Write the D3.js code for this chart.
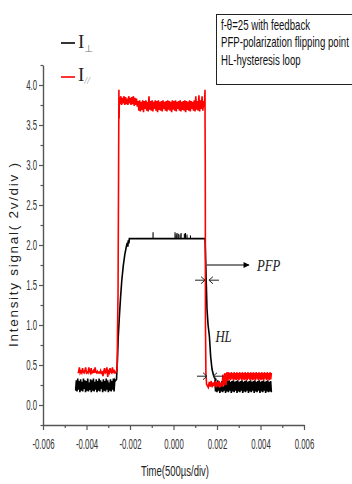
<!DOCTYPE html>
<html>
<head>
<meta charset="utf-8">
<script src="https://d3js.org/d3.v7.min.js"></script>
<style>
  body, html { margin: 0; padding: 0; background: #fff; }
  svg { display: block; }
</style>
</head>
<body>
<svg id="chart" width="352" height="484" font-family="Liberation Sans, Arial, sans-serif"></svg>
<script>
// axis ticks
var xMajor = [-0.006, -0.004, -0.002, 0, 0.002, 0.004, 0.006];
var xMinor = [-0.005, -0.003, -0.001, 0.001, 0.003, 0.005];
var yMajor = [0, 0.5, 1, 1.5, 2, 2.5, 3, 3.5, 4];
var yMinor = [-0.25, 0.25, 0.75, 1.25, 1.75, 2.25, 2.75, 3.25, 3.75, 4.25];

var blackLowL = [0.18,0.31,0.17,0.33,0.19,0.30,0.16,0.32,0.18,0.29,0.17,0.33,0.20,0.31,0.16,0.30,0.18,0.33,0.17,0.28,
  0.19,0.32,0.16,0.31,0.18,0.33,0.17,0.29,0.19,0.32,0.16,0.30,0.18,0.33,0.17,0.31,0.20,0.29,0.16,0.32,
  0.18,0.30,0.17,0.33,0.19,0.31,0.16,0.28,0.18,0.32,0.17,0.30,0.19,0.33,0.17,0.31];
var blackRise = [[-0.00268,0.30],[-0.00262,0.32],[-0.00258,0.55],[-0.00254,0.85],[-0.00249,1.10],[-0.00244,1.32],
  [-0.00238,1.55],[-0.00231,1.74],[-0.00224,1.88],[-0.00216,1.99],[-0.00212,2.03],[-0.00210,1.98],[-0.00208,2.06],[-0.00205,2.02],[-0.00203,2.08]];
var blackHigh = [[-0.00203,2.08],[0.00145,2.08]];
var blackSpikeT = [-0.00094,0.00007,0.00012,0.00016,0.00022,0.00030,0.00035,0.00050,0.00055,0.00062,0.00078];
var blackSpikeV = [2.16,2.16,2.13,2.15,2.14,2.13,2.15,2.14,2.15,2.13,2.12];
var blackFall = [[0.00145,2.08],[0.00148,1.80],[0.00151,1.50],[0.00154,1.20],[0.00159,1.00],[0.00165,0.86],
  [0.00171,0.60],[0.00177,0.45],[0.00185,0.36],[0.00194,0.31]];
var blackLowR = [0.30,0.17,0.29,0.16,0.31,0.18,0.22,0.15,0.24,0.17,0.30,0.16,0.23,0.18,0.31,0.15,0.29,0.17,0.30,0.16,
  0.31,0.18,0.29,0.15,0.30,0.17,0.31,0.16,0.29,0.18,0.30,0.15,0.31,0.17,0.29,0.16,0.30,0.18,0.31,0.15,
  0.29,0.17,0.30,0.16,0.31,0.18,0.29,0.15,0.30,0.17,0.31,0.16,0.29,0.18,0.30,0.15,0.31,0.17,0.29,0.16,
  0.30,0.18,0.31,0.15,0.29,0.17,0.30,0.16,0.31,0.18,0.29,0.15,0.30,0.17,0.31,0.16,0.29,0.17,0.30,0.16];

// I-parallel (red) trace
var redLowL = [0.40,0.41,0.47,0.40,0.42,0.40,0.46,0.41,0.40,0.43,0.47,0.40,0.41,0.40,0.47,0.42,0.40,0.46,0.40,0.41,
  0.43,0.40,0.47,0.41,0.40,0.42,0.40,0.41,0.40,0.43,0.40,0.41,0.36,0.42,0.46,0.40,0.41,0.47,0.35,0.42,
  0.40,0.46,0.41,0.40,0.47,0.40,0.44,0.40];
var redRise = [[-0.00266,0.40],[-0.00259,0.45],[-0.00257,1.00],[-0.00255,1.40],[-0.00253,2.60],[-0.00251,3.94],
  [-0.00250,3.58],[-0.00249,3.82]];
var redHigh = [3.85,3.76,3.86,3.75,3.84,3.77,3.86,3.75,3.85,3.76,3.83,3.75,3.86,3.77,3.84,3.75,3.85,3.76,3.86,3.74,
  3.84,3.75,3.83,3.73,3.80,3.68,3.81,3.67,3.79,3.69,3.81,3.66,3.80,3.70,3.81,3.68,3.79,3.67,3.86,3.69,
  3.80,3.68,3.81,3.67,3.79,3.70,3.81,3.68,3.80,3.66,3.81,3.69,3.79,3.68,3.80,3.67,3.81,3.70,3.79,3.68,
  3.80,3.67,3.81,3.69,3.80,3.68,3.79,3.66,3.81,3.69,3.80,3.68,3.81,3.67,3.79,3.70,3.80,3.68,3.81,3.67,
  3.79,3.69,3.80,3.68,3.81,3.66,3.80,3.69,3.79,3.68,3.81,3.67,3.80,3.70,3.79,3.68,3.81,3.67,3.86,3.69,
  3.80,3.68,3.87,3.67,3.81,3.70,3.86,3.68,3.80,3.72];
var redFall = [[0.00143,3.80],[0.00145,3.94],[0.00145,3.55],[0.00146,3.00],[0.00147,1.00],[0.00149,0.40],
  [0.00152,0.26],[0.00160,0.22]];
var redLowR1 = [0.22,0.29,0.23,0.30,0.22,0.28,0.24,0.30,0.22,0.29,0.23,0.30,0.22,0.28,0.23,0.38,0.24,0.40,0.25,0.41,0.30];
var redLowR2 = [0.31,0.41,0.32,0.40,0.31,0.41,0.33,0.40,0.31,0.41,0.32,0.40,0.31,0.41,0.32,0.40,0.31,0.41,0.33,0.40,
  0.31,0.41,0.32,0.40,0.31,0.41,0.32,0.40,0.31,0.41,0.33,0.40,0.31,0.41,0.32,0.40,0.31,0.41,0.32,0.40,
  0.31,0.41,0.33,0.40,0.31,0.41,0.32,0.40,0.31,0.41,0.32,0.40,0.31,0.41,0.33,0.40,0.31,0.41,0.32,0.40,
  0.31,0.41,0.32,0.40];

// annotation anchors in data units
var pfpArrow = [[0.00153,1.75],[0.00347,1.75]];
var markPairs = [[0.00145,0.00163,1.56],[0.00154,0.00182,0.36]]; // left tip, right tip, level
var boxLines = ["f-\u03b8=25 with feedback", "PFP-polarization flipping point", "HL-hysteresis loop"];

var svg = d3.select("#chart");

var x = d3.scaleLinear().domain([-0.006, 0.006]).range([43, 304]);
var y = d3.scaleLinear().domain([-0.25, 4.25]).range([425, 65]);

function spread(t0, t1, vals) {
  return vals.map(function(v, i) { return [t0 + (t1 - t0) * i / (vals.length - 1), v]; });
}

// the source figure is squeezed sideways, so text gets squeezed about its anchor too
function condense(sel, f) {
  sel.each(function() {
    var el = d3.select(this), x0 = +el.attr("x") || 0;
    el.attr("transform", "translate(" + x0 + ",0) scale(" + f + ",1) translate(" + (-x0) + ",0)");
  });
}

var line = d3.line().x(function(d) { return x(d[0]); }).y(function(d) { return y(d[1]); });

// axes
var axisColor = "#555";
var gx = svg.append("g").attr("transform", "translate(0," + y(-0.25) + ")");
gx.call(d3.axisBottom(x).tickValues(xMajor).tickSize(5).tickSizeOuter(0)
  .tickFormat(function(d) { return d.toFixed(3); }));
gx.append("g").call(d3.axisBottom(x).tickValues(xMinor).tickSize(3).tickFormat(""))
  .select(".domain").remove();

var gy = svg.append("g").attr("transform", "translate(" + x(-0.006) + ",0)");
gy.call(d3.axisLeft(y).tickValues(yMajor).tickSize(4).tickSizeOuter(0)
  .tickFormat(function(d) { return d.toFixed(1); }));
gy.append("g").call(d3.axisLeft(y).tickValues(yMinor).tickSize(2.5).tickFormat(""))
  .select(".domain").remove();

svg.selectAll(".domain").attr("stroke", axisColor).attr("stroke-width", 1.4);
svg.selectAll(".tick line").attr("stroke", axisColor).attr("stroke-width", 1.2);
svg.selectAll(".tick text").attr("fill", "#333").attr("font-size", 14.5)
  .attr("font-family", "Liberation Sans, Arial, sans-serif");
gx.selectAll(".tick text").attr("dy", "1.1em");
gy.selectAll(".tick text").attr("x", -6);
condense(svg.selectAll(".tick text"), 0.54);

// traces
var blackPts = spread(-0.0045, -0.0027, blackLowL).concat(blackRise, blackHigh, blackFall,
  spread(0.0019, 0.0045, blackLowR));
svg.append("path").datum(blackPts).attr("d", line)
  .attr("fill", "none").attr("stroke", "#000").attr("stroke-width", 1.6);
svg.append("g").selectAll("line").data(blackSpikeT).join("line")
  .attr("x1", function(d) { return x(d); }).attr("x2", function(d) { return x(d); })
  .attr("y1", y(2.08)).attr("y2", function(d, i) { return y(blackSpikeV[i]); })
  .attr("stroke", "#000").attr("stroke-width", 1.1);

var redPts = spread(-0.0044, -0.0027, redLowL).concat(redRise, spread(-0.00249, 0.00142, redHigh),
  redFall, spread(0.0016, 0.0025, redLowR1), spread(0.0025, 0.0045, redLowR2));
svg.append("path").datum(redPts).attr("d", line)
  .attr("fill", "none").attr("stroke", "#ff0000").attr("stroke-width", 1.6);

// PFP arrow
svg.append("defs").append("marker").attr("id", "head").attr("viewBox", "0 0 10 10")
  .attr("refX", 9).attr("refY", 5).attr("markerWidth", 8).attr("markerHeight", 6)
  .attr("markerUnits", "userSpaceOnUse").attr("orient", "auto")
  .append("path").attr("d", "M0,0L10,5L0,10Z").attr("fill", "#000");
svg.append("path").datum(pfpArrow).attr("d", line)
  .attr("stroke", "#000").attr("stroke-width", 1.2).attr("marker-end", "url(#head)");
var pfp = svg.append("text").text("PFP").attr("x", x(0.00347) + 8).attr("y", y(1.75) + 6)
  .attr("font-family", "Liberation Serif, serif").attr("font-style", "italic").attr("font-size", 17)
  .attr("fill", "#222");
condense(pfp, 0.75);
var hl = svg.append("text").text("HL").attr("x", x(0.00165) + 6).attr("y", y(0.86) + 6)
  .attr("font-family", "Liberation Serif, serif").attr("font-style", "italic").attr("font-size", 17)
  .attr("fill", "#222");
condense(hl, 0.75);

// inward arrow pairs marking the loop width
markPairs.forEach(function(p) {
  var cy = y(p[2]);
  [[x(p[0]) - 10, x(p[0])], [x(p[1]) + 10, x(p[1])]].forEach(function(s) {
    var dir = s[1] > s[0] ? 1 : -1;
    svg.append("line").attr("x1", s[0]).attr("x2", s[1]).attr("y1", cy).attr("y2", cy)
      .attr("stroke", "#222").attr("stroke-width", 1);
    svg.append("path").attr("d", "M" + (s[1] - dir * 4) + "," + (cy - 3.5) + "L" + s[1] + "," + cy +
      "L" + (s[1] - dir * 4) + "," + (cy + 3.5))
      .attr("fill", "none").attr("stroke", "#222").attr("stroke-width", 1);
  });
});

// legend
var leg = svg.append("g");
leg.append("line").attr("x1", 61).attr("x2", 75).attr("y1", 43).attr("y2", 43)
  .attr("stroke", "#000").attr("stroke-width", 1.6);
leg.append("line").attr("x1", 61).attr("x2", 75).attr("y1", 77).attr("y2", 77)
  .attr("stroke", "#ff0000").attr("stroke-width", 1.6);
var t1 = leg.append("text").attr("x", 78).attr("y", 48)
  .attr("font-family", "Liberation Serif, serif").attr("font-size", 19).attr("fill", "#222");
t1.append("tspan").text("I");
t1.append("tspan").text("\u22a5").attr("font-size", 10).attr("dy", 4).attr("fill", "#777")
  .attr("font-family", "DejaVu Sans, sans-serif");
var t2 = leg.append("text").attr("x", 78).attr("y", 81)
  .attr("font-family", "Liberation Serif, serif").attr("font-size", 19).attr("fill", "#222");
t2.append("tspan").text("I");
t2.append("tspan").text("//").attr("font-size", 10).attr("dy", 3).attr("fill", "#999")
  .attr("font-style", "italic");

// note box (its right edge runs off the picture, as in the source)
var box = svg.append("g");
box.append("rect").attr("x", 216.5).attr("y", 14.5).attr("width", 140).attr("height", 70)
  .attr("fill", "#fff").attr("stroke", "#222").attr("stroke-width", 1);
var boxText = box.selectAll("text").data(boxLines).join("text")
  .attr("x", 221).attr("y", function(d, i) { return 30 + i * 17.5; })
  .attr("font-size", 14).attr("fill", "#111").text(function(d) { return d; });
var widest = d3.max(boxText.nodes(), function(n) { return n.getComputedTextLength(); });
condense(boxText, 128 / widest);

// axis titles
var xt = svg.append("text").attr("x", 175).attr("y", 476)
  .attr("text-anchor", "middle").attr("font-size", 14).attr("fill", "#222")
  .text("Time(500\u00b5s/div)");
condense(xt, 0.68);
svg.append("text").attr("transform", "translate(18,255) rotate(-90)")
  .attr("text-anchor", "middle").attr("font-size", 13.5).attr("fill", "#222")
  .attr("textLength", 184).attr("lengthAdjust", "spacing")
  .text("Intensity signal( 2v/div )");
</script>
</body>
</html>
